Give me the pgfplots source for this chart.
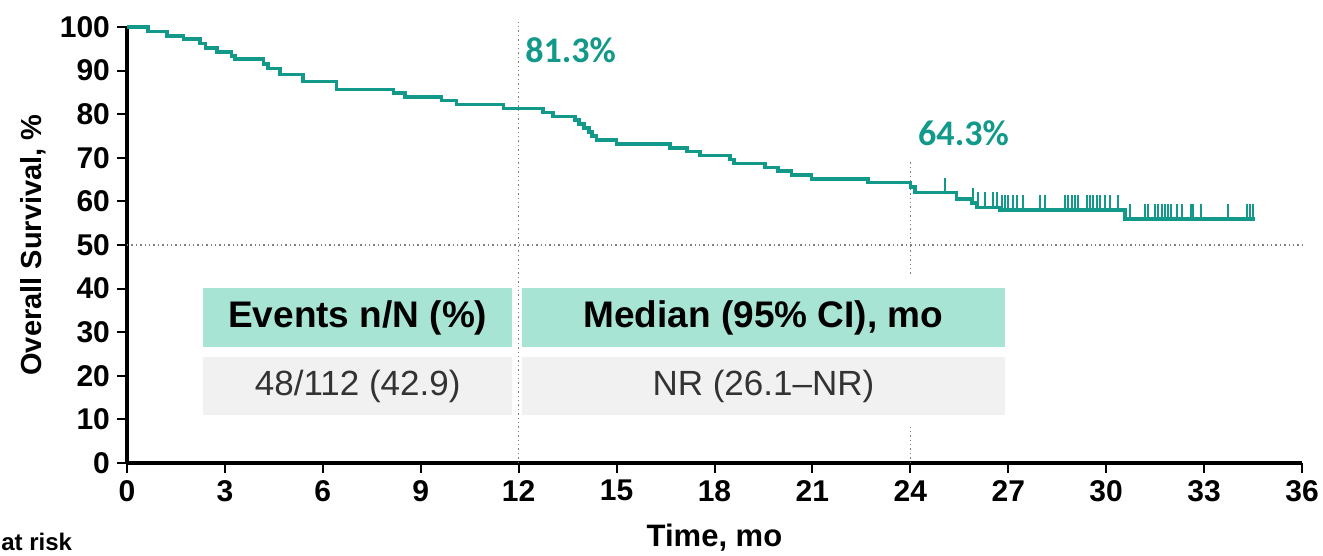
\documentclass[border=0pt]{standalone}
\usepackage{pgfplots}
\pgfplotsset{compat=1.18}
\usepackage{fontspec}
\setmainfont{Liberation Sans}
\newfontfamily\calib{Carlito}

\definecolor{kmteal}{HTML}{12998A}
\definecolor{hdrfill}{HTML}{A8E4D3}
\definecolor{cellfill}{HTML}{F1F1F1}
\definecolor{celltext}{HTML}{333333}

% Kaplan-Meier estimate: (time in months, survival in %)
\pgfplotstableread{
t     s
0     100
0.65  99.0
1.22  97.9
1.73  97.2
2.24  96.2
2.40  95.2
2.75  94.3
3.20  93.4
3.30  92.6
4.18  91.5
4.32  90.5
4.69  89.1
5.40  87.5
6.42  85.7
8.16  84.8
8.52  83.9
9.64  83.1
10.10 82.2
11.53 81.3
12.75 80.4
13.06 79.5
13.73 78.6
13.85 77.7
14.00 76.8
14.15 75.9
14.25 75.0
14.39 74.1
15.00 73.2
16.64 72.3
17.15 71.4
17.56 70.5
18.47 69.6
18.60 68.7
19.55 67.8
19.95 67.0
20.36 66.1
20.97 65.2
22.71 64.3
24.00 63.3
24.14 62.0
25.42 60.6
25.88 59.7
26.03 58.6
26.75 58.0
30.58 55.9
34.56 55.9
}\kmcurve

% Censored observations: (time, survival level at that time)
\pgfplotstableread{
t     s
25.06 62.0
25.93 59.7
26.08 58.6
26.29 58.6
26.54 58.6
26.64 58.6
26.80 58.0
26.90 58.0
27.00 58.0
27.15 58.0
27.26 58.0
27.46 58.0
27.97 58.0
28.12 58.0
28.74 58.0
28.84 58.0
28.94 58.0
29.05 58.0
29.15 58.0
29.40 58.0
29.50 58.0
29.60 58.0
29.71 58.0
29.81 58.0
29.96 58.0
30.12 58.0
30.37 58.0
30.73 55.9
31.19 55.9
31.29 55.9
31.50 55.9
31.60 55.9
31.70 55.9
31.80 55.9
31.90 55.9
32.00 55.9
32.16 55.9
32.31 55.9
32.60 55.9
32.67 55.9
32.92 55.9
33.74 55.9
34.30 55.9
34.40 55.9
34.50 55.9
}\kmcensor

\begin{document}
\begin{tikzpicture}
\useasboundingbox (-63.5pt,-46.5pt) rectangle (598pt,231.5pt);
\begin{axis}[
  scale only axis, width=587.5pt, height=218pt,
  xmin=0, xmax=36, ymin=0, ymax=100,
  axis lines=left,
  axis line style={-, line width=2pt},
  xtick={0,3,...,36}, ytick={0,10,...,100},
  tick align=outside, major tick length=5pt,
  tick style={black, line width=1pt},
  tick label style={font=\bfseries\fontsize{15}{15}\selectfont},
  /pgf/number format/assume math mode=true,
  xlabel={Time, mo},
  ylabel={Overall Survival, \%},
  xlabel style={font=\bfseries\fontsize{15.5}{16}\selectfont,
    at={(axis description cs:0.5,0)}, anchor=base, yshift=-42pt},
  ylabel style={font=\bfseries\fontsize{14.5}{15}\selectfont,
    at={(axis description cs:0,0.5)}, anchor=center, rotate=0, yshift=47pt},
  clip=false,
]
% reference lines at 12 and 24 months and at the median level
\addplot[gray, line width=0.7pt, dash pattern=on 0.7pt off 1.5pt] coordinates {(12,0) (12,101.5)};
\addplot[gray, line width=0.7pt, dash pattern=on 0.7pt off 1.5pt] coordinates {(24,0) (24,69)};
\addplot[gray, line width=0.7pt, dash pattern=on 0.7pt off 1.5pt] coordinates {(0,50) (36,50)};

% survival curve and censor ticks
\addplot[const plot, kmteal, line width=1.8pt] table[x=t, y=s] {\kmcurve};
\addplot[only marks, mark=|, kmteal, mark size=3.75pt,
  mark options={yshift=3.75pt, line width=1pt}] table[x=t, y=s] {\kmcensor};

% landmark rates
\node[anchor=west, inner sep=0, text=kmteal, font=\calib\bfseries\fontsize{18}{18}\selectfont]
  at (axis cs:12.19,94.7) {81.3\%};
\node[anchor=west, inner sep=0, text=kmteal, font=\calib\bfseries\fontsize{18}{18}\selectfont]
  at (axis cs:24.23,75.7) {64.3\%};

% summary table (white backing masks the 24-month guide line)
\fill[white] (axis cs:12.1,8.3) rectangle (axis cs:26.9,42.7);
\fill[hdrfill] (axis cs:2.33,26.6) rectangle (axis cs:11.8,40.1);
\fill[hdrfill] (axis cs:12.1,26.6) rectangle (axis cs:26.9,40.1);
\fill[cellfill] (axis cs:2.33,11.0) rectangle (axis cs:11.8,24.3);
\fill[cellfill] (axis cs:12.1,11.0) rectangle (axis cs:26.9,24.3);
\node[font=\bfseries\fontsize{18.5}{19}\selectfont] at (axis cs:7.07,33.35) {Events n/N (\%)};
\node[font=\bfseries\fontsize{18.5}{19}\selectfont] at (axis cs:19.5,33.35) {Median (95\% CI), mo};
\node[text=celltext, font=\fontsize{17.5}{18}\selectfont] at (axis cs:7.07,17.65) {48/112 (42.9)};
\node[text=celltext, font=\fontsize{17.5}{18}\selectfont] at (axis cs:19.5,17.65) {NR (26.1–NR)};
\end{axis}
\node[anchor=base west, inner sep=0, font=\bfseries\fontsize{12}{12}\selectfont] at (-63pt,-44pt) {at risk};
\end{tikzpicture}
\end{document}
